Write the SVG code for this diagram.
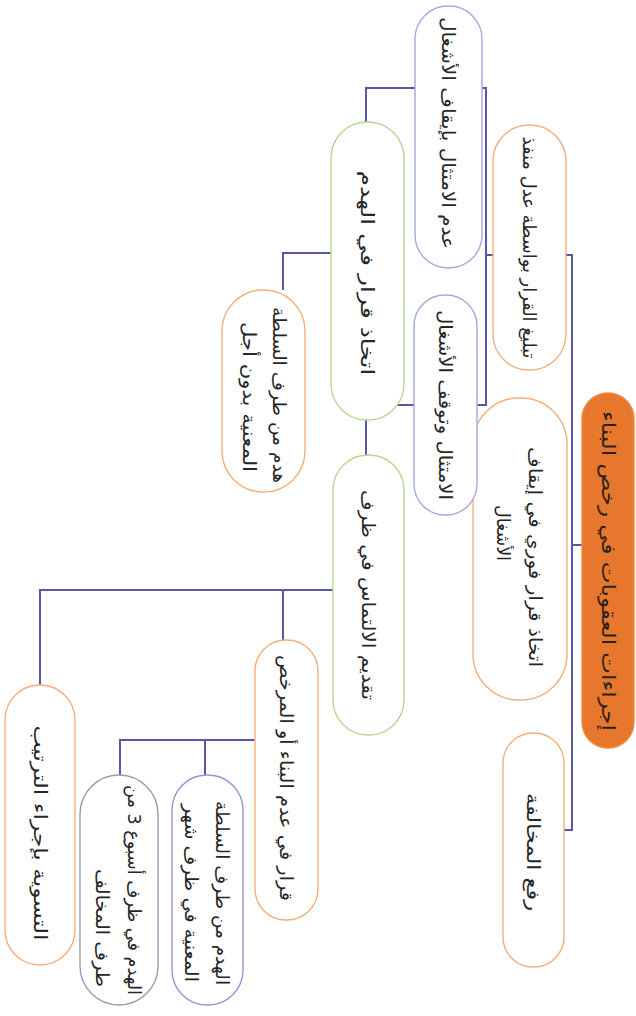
<svg xmlns="http://www.w3.org/2000/svg" width="636" height="1016" viewBox="0 0 636 1016">
  <style>
    .bg { fill: #ffffff; }
    .box { fill: #ffffff; stroke-width: 1.4; }
    .orange { stroke: #F5AE7A; }
    .lav { stroke: #A7A8DE; }
    .green { stroke: #B6D78F; }
    .purple { stroke: #A68CD2; }
    .grey { stroke: #9A9AB4; }
    .root { fill: #E8772E; stroke: #EE8A45; stroke-width: 1.4; }
    .lbl { font-family: "DejaVu Sans", "Noto Sans", sans-serif; font-size: 18px; fill: #262626; text-anchor: middle; dominant-baseline: central; direction: rtl; }
    .rootlbl { font-size: 19px; fill: #2a2218; }
    .wire { fill: none; stroke: #5A56A6; stroke-width: 2; }
  </style>
  <rect class="bg" x="0" y="0" width="636" height="1016"/>

  <!-- connectors -->
  <g id="connectors">
    <path class="wire" d="M566,255 H572 V830 H564 M572,545 H582"/>
    <path class="wire" d="M493,255 H486 M482,88 H486 V405 H477"/>
    <path class="wire" d="M415,88 H366 V122"/>
    <path class="wire" d="M331,253 H283 V290"/>
    <path class="wire" d="M414,405 H366 V455"/>
    <path class="wire" d="M333,590 H40 V685 M283,590 V640"/>
    <path class="wire" d="M255,740 H120 V775 M205,740 V775"/>
  </g>

  <!-- root -->
  <g id="root">
    <rect class="root" x="582" y="393" width="52" height="355" rx="26"/>
    <g transform="translate(609,570) rotate(90)">
      <text class="lbl rootlbl" x="1" y="0" textLength="320" lengthAdjust="spacingAndGlyphs">إجراءات العقوبات في رخص البناء</text>
    </g>
  </g>

  <g id="n-notify">
    <rect class="box orange" x="493" y="125" width="73" height="245" rx="36"/>
    <g transform="translate(529.5,247.5) rotate(90)">
      <text class="lbl" x="0" y="0" textLength="222" lengthAdjust="spacingAndGlyphs">تبليغ القرار بواسطة عدل منفذ</text>
    </g>
  </g>

  <g id="n-stop">
    <rect class="box orange" x="473" y="398" width="94" height="302" rx="46"/>
    <g transform="translate(520,549) rotate(90)">
      <text class="lbl" x="8" y="-15" textLength="220" lengthAdjust="spacingAndGlyphs">اتخاذ قرار فوري في إيقاف</text>
      <text class="lbl" x="-16" y="17" textLength="56" lengthAdjust="spacingAndGlyphs">الأشغال</text>
    </g>
  </g>

  <g id="n-lift">
    <rect class="box orange" x="503" y="733" width="61" height="234" rx="30"/>
    <g transform="translate(533.5,850) rotate(90)">
      <text class="lbl" x="2" y="0" textLength="118" lengthAdjust="spacingAndGlyphs">رفع المخالفة</text>
    </g>
  </g>

  <g id="n-noncomply">
    <rect class="box lav" x="415" y="6" width="67" height="262" rx="33"/>
    <g transform="translate(448.5,137) rotate(90)">
      <text class="lbl" x="-4" y="0" textLength="232" lengthAdjust="spacingAndGlyphs">عدم الامتثال بإيقاف الأشغال</text>
    </g>
  </g>

  <g id="n-comply">
    <rect class="box lav" x="414" y="295" width="63" height="220" rx="31"/>
    <g transform="translate(445.5,405) rotate(90)">
      <text class="lbl" x="0" y="0" textLength="190" lengthAdjust="spacingAndGlyphs">الامتثال وتوقف الأشغال</text>
    </g>
  </g>

  <g id="n-demolish-decision">
    <rect class="box green" x="331" y="122" width="73" height="298" rx="36"/>
    <g transform="translate(367.5,271) rotate(90)">
      <text class="lbl" x="2" y="0" textLength="205" lengthAdjust="spacingAndGlyphs">اتخاذ قرار في الهدم</text>
    </g>
  </g>

  <g id="n-authority-now">
    <rect class="box orange" x="222" y="290" width="83" height="202" rx="41"/>
    <g transform="translate(263.5,391) rotate(90)">
      <text class="lbl" x="4" y="-16" textLength="176" lengthAdjust="spacingAndGlyphs">هدم من طرف السلطة</text>
      <text class="lbl" x="6" y="14" textLength="150" lengthAdjust="spacingAndGlyphs">المعنية بدون أجل</text>
    </g>
  </g>

  <g id="n-appeal">
    <rect class="box green" x="333" y="455" width="71" height="280" rx="35"/>
    <g transform="translate(368.5,595) rotate(90)">
      <text class="lbl" x="0" y="0" textLength="210" lengthAdjust="spacingAndGlyphs">تقديم الالتماس في ظرف</text>
    </g>
  </g>

  <g id="n-refusal">
    <rect class="box orange" x="255" y="640" width="63" height="280" rx="31"/>
    <g transform="translate(286.5,780) rotate(90)">
      <text class="lbl" x="-2" y="0" textLength="246" lengthAdjust="spacingAndGlyphs">قرار في عدم البناء أو المرخص</text>
    </g>
  </g>

  <g id="n-settle">
    <rect class="box orange" x="5" y="685" width="70" height="280" rx="35"/>
    <g transform="translate(40,825) rotate(90)">
      <text class="lbl" x="8" y="0" textLength="215" lengthAdjust="spacingAndGlyphs">التسوية بإجراء الترتيب</text>
    </g>
  </g>

  <g id="n-authority-month">
    <rect class="box purple" x="172" y="775" width="71" height="230" rx="35"/>
    <g transform="translate(207.5,890) rotate(90)">
      <text class="lbl" x="3" y="-15" textLength="184" lengthAdjust="spacingAndGlyphs">الهدم من طرف السلطة</text>
      <text class="lbl" x="3" y="16" textLength="178" lengthAdjust="spacingAndGlyphs">المعنية في ظرف شهر</text>
    </g>
  </g>

  <g id="n-offender">
    <rect class="box grey" x="80" y="775" width="78" height="230" rx="39"/>
    <g transform="translate(119,890) rotate(90)">
      <text class="lbl" x="0" y="-15" textLength="210" lengthAdjust="spacingAndGlyphs">الهدم في ظرف أسبوع 3 من</text>
      <text class="lbl" x="38" y="17" textLength="118" lengthAdjust="spacingAndGlyphs">طرف المخالف</text>
    </g>
  </g>
</svg>
